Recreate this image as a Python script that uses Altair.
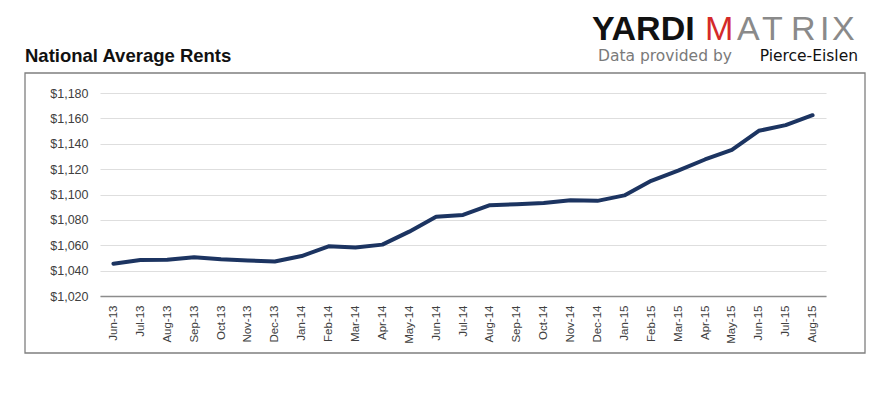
import altair as alt
import pandas as pd

months = ["Jun-13", "Jul-13", "Aug-13", "Sep-13", "Oct-13", "Nov-13", "Dec-13",
          "Jan-14", "Feb-14", "Mar-14", "Apr-14", "May-14", "Jun-14", "Jul-14",
          "Aug-14", "Sep-14", "Oct-14", "Nov-14", "Dec-14", "Jan-15", "Feb-15",
          "Mar-15", "Apr-15", "May-15", "Jun-15", "Jul-15", "Aug-15"]
rents = [1045.5, 1048.4, 1048.6, 1050.6, 1049.0, 1048.0, 1047.2,
         1051.5, 1059.2, 1058.3, 1060.5, 1070.7, 1082.4, 1083.9,
         1091.6, 1092.3, 1093.3, 1095.5, 1095.0, 1099.3, 1110.8,
         1118.8, 1127.6, 1135.2, 1150.2, 1154.7, 1162.5]
y_ticks = [1020, 1040, 1060, 1080, 1100, 1120, 1140, 1160, 1180]

title_text = "National Average Rents"
logo_parts = ["YARDI", "M", "A", "T", "R", "I", "X"]
sub_parts = ["Data provided by", "Pierce-Eislen"]

df = pd.DataFrame({"month": months, "rent": rents})

FONT = "Liberation Sans"
SUBFONT = "DejaVu Sans"

line = alt.Chart(df).mark_line(color="#1c3461", strokeWidth=4, strokeCap="round",
                               strokeJoin="round").encode(
    x=alt.X("month:N", sort=months, scale=alt.Scale(padding=0.5),
            axis=alt.Axis(title=None, labelAngle=-90, labelFont=FONT, labelFontSize=11.5,
                          labelColor="#404040", ticks=False, domainColor="#8c8c8c",
                          domainWidth=1.5, labelPadding=9, grid=False)),
    y=alt.Y("rent:Q", scale=alt.Scale(domain=[1020, 1180], nice=False, zero=False),
            axis=alt.Axis(title=None, values=y_ticks, format="$,.0f", labelFont=FONT,
                          labelFontSize=12.5, labelColor="#404040", ticks=False,
                          domain=False, gridColor="#dedede", gridWidth=1.2,
                          labelPadding=12))
)

one = pd.DataFrame({"k": [0]})


def txt(s, x, y, size, color, align="left", weight="normal", font=FONT):
    return alt.Chart(one).mark_text(align=align, baseline="alphabetic", font=font,
                                    fontSize=size, fontWeight=weight, color=color).encode(
        x=alt.value(x), y=alt.value(y), text=alt.value(s))


border = alt.Chart(one).mark_rect(fillOpacity=0, stroke="#7f7f7f", strokeWidth=1.3).encode(
    x=alt.value(-75), x2=alt.value(765), y=alt.value(-20), y2=alt.value(260))

title = txt(title_text, -75, -31, 18.5, "#111111", weight="bold")

LY = -53.5
LS = 34
logo = [
    txt(logo_parts[0], 492, LY, LS, "#111111", weight="bold"),
    txt(logo_parts[1], 605, LY, LS, "#d42a2a"),
    txt(logo_parts[2], 637, LY, LS, "#8a8a8a"),
    txt(logo_parts[3], 662, LY, LS, "#8a8a8a"),
    txt(logo_parts[4], 691, LY, LS, "#8a8a8a"),
    txt(logo_parts[5], 720, LY, LS, "#8a8a8a"),
    txt(logo_parts[6], 732, LY, LS, "#8a8a8a"),
]
sub1 = txt(sub_parts[0], 498, -32, 15.5, "#7a7a7a", font=SUBFONT)
sub2 = txt(sub_parts[1], 758, -32, 15.5, "#111111", align="right", font=SUBFONT)

chart = alt.layer(border, line, title, *logo, sub1, sub2).properties(
    width=726, height=203,
    autosize=alt.AutoSizeParams(type="none"),
    padding={"left": 92, "top": 85, "right": 50, "bottom": 70},
    background="white",
).configure_view(stroke=None)

chart.save("out.html", embed_options={"renderer": "svg", "actions": False})
